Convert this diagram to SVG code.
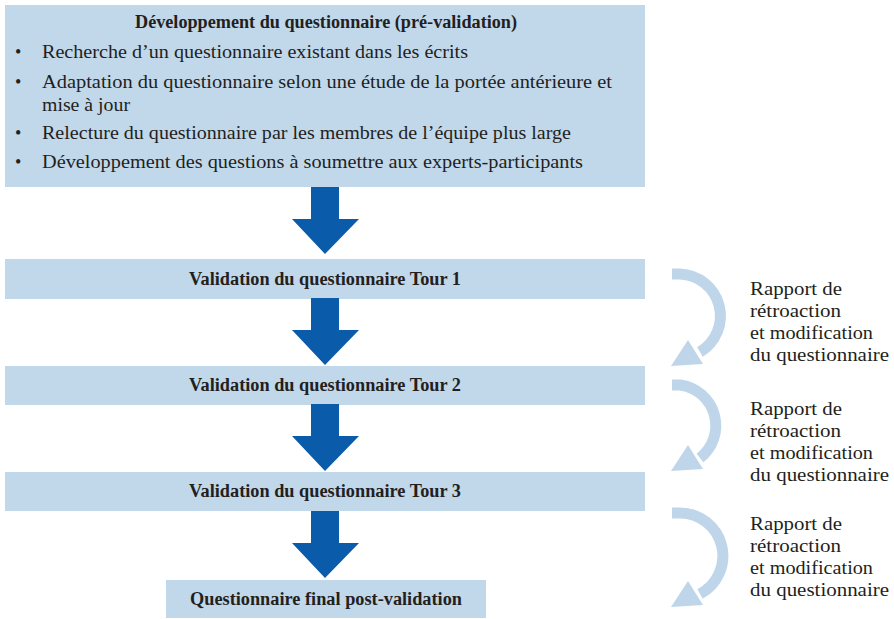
<svg xmlns="http://www.w3.org/2000/svg" width="894" height="619" viewBox="0 0 894 619">
<defs>
<style>
.box{fill:#c1d7ea}
.t{font-family:'Liberation Serif','Times New Roman',serif;fill:#231f20;font-size:18px}
.b{font-weight:bold}
.s{font-size:19px}
.curve{fill:none;stroke:#bfd6ea;stroke-width:11}
.head{fill:#bfd6ea}
</style>
<polygon id="downArrow" points="-14,0 14,0 14,32 34,32 0,67 -33,32 -14,32" fill="#0a5ba9"/>
</defs>
<rect width="894" height="619" fill="#fff"/>
<g id="node-dev">
<rect class="box" x="5" y="5" width="640" height="182"/>
<text class="t b" x="326" y="28" text-anchor="middle" textLength="382" lengthAdjust="spacingAndGlyphs">Développement du questionnaire (pré-validation)</text>
<text class="t" x="15" y="58">•</text>
<text class="t" x="42" y="58" textLength="426" lengthAdjust="spacingAndGlyphs">Recherche d’un questionnaire existant dans les écrits</text>
<text class="t" x="15" y="88">•</text>
<text class="t" x="42" y="88" textLength="570" lengthAdjust="spacingAndGlyphs">Adaptation du questionnaire selon une étude de la portée antérieure et</text>
<text class="t" x="42" y="111" textLength="88" lengthAdjust="spacingAndGlyphs">mise à jour</text>
<text class="t" x="15" y="139">•</text>
<text class="t" x="42" y="139" textLength="529" lengthAdjust="spacingAndGlyphs">Relecture du questionnaire par les membres de l’équipe plus large</text>
<text class="t" x="15" y="168">•</text>
<text class="t" x="42" y="168" textLength="541" lengthAdjust="spacingAndGlyphs">Développement des questions à soumettre aux experts-participants</text>
</g>
<g id="node-t1">
<rect class="box" x="5" y="259" width="640" height="40"/>
<text class="t b" x="189" y="285" textLength="272" lengthAdjust="spacingAndGlyphs">Validation du questionnaire Tour 1</text>
</g>
<g id="node-t2">
<rect class="box" x="5" y="366" width="640" height="39"/>
<text class="t b" x="189" y="391" textLength="272" lengthAdjust="spacingAndGlyphs">Validation du questionnaire Tour 2</text>
</g>
<g id="node-t3">
<rect class="box" x="5" y="472" width="640" height="39"/>
<text class="t b" x="189" y="497" textLength="272" lengthAdjust="spacingAndGlyphs">Validation du questionnaire Tour 3</text>
</g>
<g id="node-final">
<rect class="box" x="166" y="580" width="320" height="38"/>
<text class="t b" x="190" y="605" textLength="272" lengthAdjust="spacingAndGlyphs">Questionnaire final post-validation</text>
</g>
<g id="connectors">
<use href="#downArrow" x="325" y="187"/>
<use href="#downArrow" x="325" y="298"/>
<use href="#downArrow" x="325" y="404"/>
<use href="#downArrow" x="325" y="511"/>
<path class="curve" d="M672,274 L680,274 A42,42 0 0 1 700,352"/>
<polygon class="head" points="671,366 688,340 703,364"/>
<path class="curve" d="M672,385 L680,385 A41,41 0 0 1 700,458"/>
<polygon class="head" points="671,471 688,445 703,469"/>
<path class="curve" d="M672,513 L680,513 A43,43 0 0 1 700,594"/>
<polygon class="head" points="671,607 688,581 703,605"/>
</g>
<g id="labels">
<text class="t s" x="750" y="295" textLength="92" lengthAdjust="spacingAndGlyphs">Rapport de</text>
<text class="t s" x="750" y="317" textLength="91" lengthAdjust="spacingAndGlyphs">rétroaction</text>
<text class="t s" x="750" y="339" textLength="123" lengthAdjust="spacingAndGlyphs">et modification</text>
<text class="t s" x="750" y="361" textLength="139" lengthAdjust="spacingAndGlyphs">du questionnaire</text>
<text class="t s" x="750" y="415" textLength="92" lengthAdjust="spacingAndGlyphs">Rapport de</text>
<text class="t s" x="750" y="437" textLength="91" lengthAdjust="spacingAndGlyphs">rétroaction</text>
<text class="t s" x="750" y="459" textLength="123" lengthAdjust="spacingAndGlyphs">et modification</text>
<text class="t s" x="750" y="481" textLength="139" lengthAdjust="spacingAndGlyphs">du questionnaire</text>
<text class="t s" x="750" y="530" textLength="92" lengthAdjust="spacingAndGlyphs">Rapport de</text>
<text class="t s" x="750" y="552" textLength="91" lengthAdjust="spacingAndGlyphs">rétroaction</text>
<text class="t s" x="750" y="574" textLength="123" lengthAdjust="spacingAndGlyphs">et modification</text>
<text class="t s" x="750" y="596" textLength="139" lengthAdjust="spacingAndGlyphs">du questionnaire</text>
</g>
</svg>
